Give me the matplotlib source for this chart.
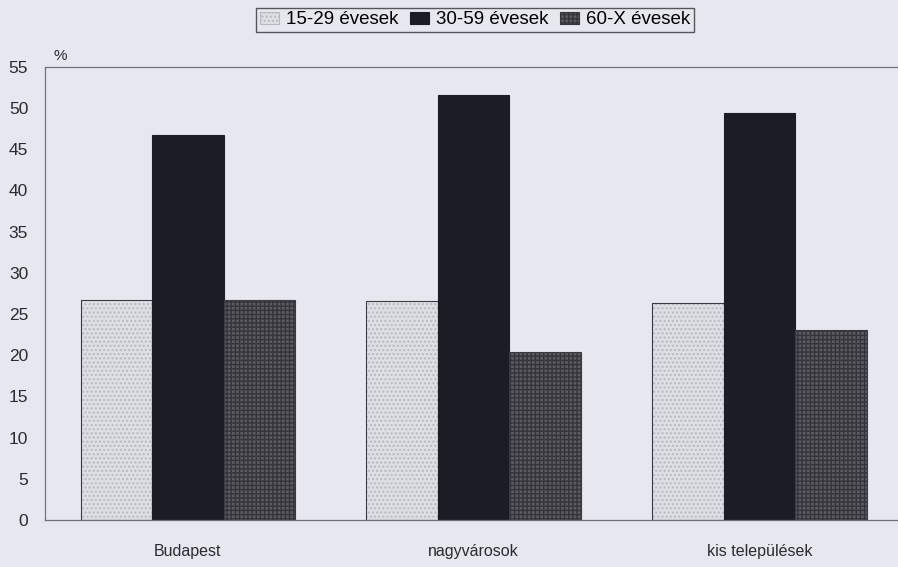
import numpy as np
import matplotlib.pyplot as plt

plt.rcParams['font.family'] = ['Liberation Sans', 'DejaVu Sans']

kategoriak = ['Budapest', 'nagyvárosok', 'kis települések']
sorozatok = ['15-29 évesek', '30-59 évesek', '60-X évesek']
fiatal = [26.7, 26.6, 26.3]
kozep = [46.7, 51.6, 49.4]
idos = [26.7, 20.4, 23.1]
y_ticks = [0, 5, 10, 15, 20, 25, 30, 35, 40, 45, 50, 55]

hatter = '#e7e8ef'
fig = plt.figure(figsize=(8.98, 5.67), dpi=100, facecolor=hatter)
ax = fig.add_axes([0.050, 0.083, 0.955, 0.799])
ax.set_facecolor(hatter)

x = np.arange(len(kategoriak))
w = 0.25
szinek = ['#dedfe4', '#1c1c24', '#5a5a60']
mintak = ['....', None, '++++']
mintaszin = ['#b8b9bf', None, '#34343a']
adat = [fiatal, kozep, idos]

for i in range(3):
    pos = x + (i - 1) * w
    if mintak[i]:
        ax.bar(pos, adat[i], w, color=szinek[i], edgecolor=mintaszin[i],
               hatch=mintak[i], linewidth=0, label=sorozatok[i])
        # keret a mintazott oszlopokra
        ax.bar(pos, adat[i], w, fill=False, edgecolor='#3a3a40', linewidth=0.8)
    else:
        ax.bar(pos, adat[i], w, color=szinek[i], edgecolor='#1c1c24',
               linewidth=0.8, label=sorozatok[i])

ax.set_xlim(-0.5, 2.5)
ax.set_ylim(0, 55)
ax.set_yticks(y_ticks)
ax.set_xticks(x)
ax.set_xticklabels(kategoriak, fontsize=11.5)
ax.tick_params(axis='y', length=0, labelsize=12.5, colors='#2a2a30', pad=12)
ax.tick_params(axis='x', length=0, colors='#2a2a30', pad=17)
for s in ax.spines.values():
    s.set_color('#707078')
    s.set_linewidth(0.9)

ax.text(0.01, 1.015, '%', transform=ax.transAxes, fontsize=11, color='#2a2a30')

leg = fig.legend(loc='upper center', bbox_to_anchor=(0.529, 0.993), ncol=3,
                 fontsize=13.5, frameon=True, fancybox=False, handlelength=1.0,
                 handleheight=0.6, handletextpad=0.4, columnspacing=0.6,
                 borderpad=0.2, borderaxespad=0.2, edgecolor='#303036')
leg.get_frame().set_facecolor(hatter)
leg.get_frame().set_linewidth(1.0)
for p in leg.get_patches():
    p.set_linewidth(0.8)

fig.savefig('out.png', dpi=100, facecolor=hatter)
